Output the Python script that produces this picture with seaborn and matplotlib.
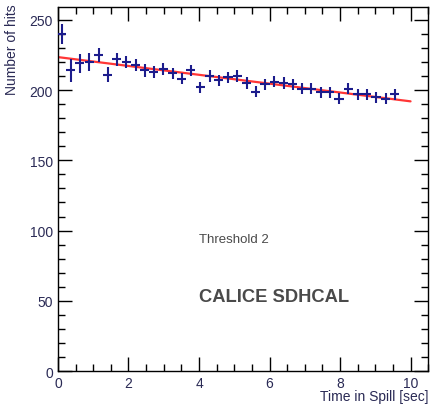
import numpy as np
import pandas as pd
import matplotlib
matplotlib.use("Agg")
import matplotlib.pyplot as plt
import seaborn as sns
from matplotlib.ticker import MultipleLocator

# Data
time_sec = [0.10, 0.36, 0.62, 0.89, 1.15, 1.41, 1.67, 1.94, 2.20, 2.46,
            2.72, 2.99, 3.25, 3.51, 3.77, 4.04, 4.30, 4.56, 4.82, 5.09,
            5.35, 5.61, 5.87, 6.14, 6.40, 6.66, 6.92, 7.19, 7.45, 7.71,
            7.97, 8.24, 8.50, 8.76, 9.02, 9.29, 9.55]
hits = [240, 214, 219, 220, 225, 211, 222, 220, 218, 214,
        213, 215, 212, 208, 214, 202, 210, 207, 209, 210,
        205, 199, 204, 206, 205, 204, 201, 201, 198.5, 198.5,
        194, 201, 197, 197, 195, 194, 197]
hits_err = [7, 8, 7, 6.5, 5, 5.5, 4.5, 4.5, 4.5, 4.5,
            4.5, 4, 4, 4, 4, 4, 4, 4, 4, 4,
            4, 4, 4, 4, 4, 4, 4, 4, 4, 4,
            4, 4, 4, 4, 4, 4, 4]
time_halfwidth = 0.13
fit_intercept = 223.5
fit_slope = -3.15
fit_range = [0.0, 10.0]

sns.set_style("ticks")
plt.rcParams['font.family'] = ['Liberation Sans', 'DejaVu Sans']

fig = plt.figure(figsize=(4.35, 4.06), dpi=100)
ax = fig.add_axes([0.1333, 0.0837, 0.851, 0.896])

fit_x = np.linspace(fit_range[0], fit_range[1], 50)
fit_df = pd.DataFrame({"t": fit_x, "y": fit_intercept + fit_slope * fit_x})
sns.lineplot(data=fit_df, x="t", y="y", ax=ax, color="#ff2020", lw=1.6,
             alpha=0.9, zorder=2)

ax.errorbar(time_sec, hits, yerr=hits_err, xerr=time_halfwidth, fmt="none",
            ecolor="#1c1c8c", elinewidth=1.5, capsize=0, zorder=3)

ax.set_xlim(0, 10.5)
ax.set_ylim(0, 259)
ax.xaxis.set_major_locator(MultipleLocator(2))
ax.xaxis.set_minor_locator(MultipleLocator(0.5))
ax.yaxis.set_major_locator(MultipleLocator(50))
ax.yaxis.set_minor_locator(MultipleLocator(10))
ax.tick_params(which="both", direction="in", top=True, right=True,
               colors="black", labelcolor="#2a2a55", labelsize=10, width=1.0)
ax.tick_params(which="major", length=10)
ax.tick_params(which="minor", length=5)
for s in ax.spines.values():
    s.set_linewidth(1.0)
    s.set_color("black")

ax.set_xlabel("")
ax.set_ylabel("")
fig.text(0.984, 0.006, "Time in Spill [sec]", ha="right", va="bottom",
         fontsize=10, color="#2a2a55")
fig.text(0.012, 0.988, "Number of hits", ha="left", va="top", rotation=90,
         fontsize=10, color="#2a2a55")

ax.text(4.0, 94, "Threshold 2", fontsize=9.5, color="#4a4a4a", va="center")
ax.text(4.0, 53, "CALICE SDHCAL", fontsize=13.2, fontweight="bold",
        color="#4a4a4a", va="center")

fig.savefig("out.png", dpi=100)
